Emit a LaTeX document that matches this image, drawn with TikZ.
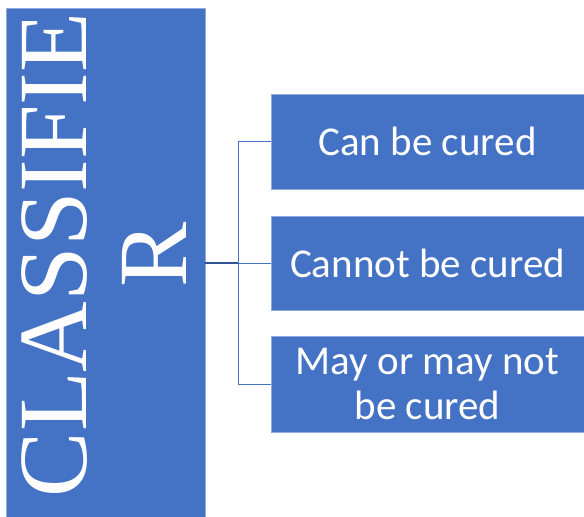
\documentclass[tikz,border=0pt]{standalone}
\usepackage{fontspec}
\newfontfamily\serfont{Liberation Serif}
\newfontfamily\calfont{Carlito}
\definecolor{boxblue}{HTML}{4472C4}
\definecolor{edgeblue}{HTML}{8FAADC}
\definecolor{darkline}{HTML}{2F5597}
\begin{document}
\begin{tikzpicture}[x=1pt,y=1pt,
  bluebox/.style={rectangle, fill=boxblue, draw=edgeblue, line width=0.6pt, inner sep=0pt, text=white},
  itembox/.style={bluebox, minimum width=313pt, font=\calfont\fontsize{41}{45}\selectfont, align=center},
  conn/.style={draw=boxblue, line width=1pt}]
\useasboundingbox (0,0) rectangle (584,517);
\node[bluebox, minimum width=198.3pt, minimum height=511pt] (cls) at (105.85,253.5) {};
\node[text=white, rotate=90, align=center, inner sep=0pt, font=\serfont\fontsize{98}{100}\selectfont] (clst) at (104,262) {CLASSIFIE\\R};
\node[itembox, minimum height=94.7pt] (b1) at (427.5,375.35) {Can be cured};
\node[itembox, minimum height=94.7pt] (b2) at (427.5,253.65) {Cannot be cured};
\node[itembox, minimum height=95.3pt] (b3) at (427.5,132.65) {May or may not\\be cured};
\coordinate (j) at (238,254);
\draw[draw=darkline, line width=1.5pt] (cls.east |- j) -- (j);
\draw[conn] (j |- b1.west) -- (j |- b3.west);
\draw[conn] (j |- b1.west) -- (b1.west);
\draw[conn] (j |- b2.west) -- (b2.west);
\draw[conn] (j |- b3.west) -- (b3.west);
\end{tikzpicture}
\end{document}
